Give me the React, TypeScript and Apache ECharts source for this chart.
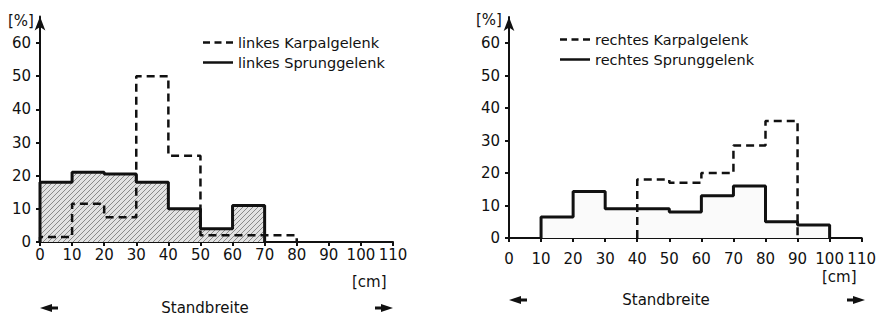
import React, { useEffect, useRef } from "react";
import * as echarts from "echarts";

// ---- data ----
const binWidth = 10; // cm
const yTicks = [0, 10, 20, 30, 40, 50, 60];

// left chart: bins starting at 0 cm
const leftKarpal = [1.5, 11.5, 7.5, 50, 26, 2, 2, 2];
const leftSprung = [18, 21, 20.5, 18, 10, 4, 11];
// right chart
const rightKarpal = [0, 0, 0, 0, 18, 17, 20, 28.5, 36];
const rightSprung = [0, 6.5, 14.3, 9, 9, 8, 13, 16, 5, 4];

const leftNames = ["linkes Karpalgelenk", "linkes Sprunggelenk"];
const rightNames = ["rechtes Karpalgelenk", "rechtes Sprunggelenk"];

const percentLabel = "[%]";
const cmLabel = "[cm]";
const xTitle = "Standbreite";

const FONT = "DejaVu Sans";
const INK = "#111";

const DASH_ICON = "path://M0,0h7v2.5h-7z M11.5,0h7v2.5h-7z M23,0h7v2.5h-7z";
const SOLID_ICON = "path://M0,0h30v2.5h-30z";

function histPoints(values: number[]): number[][] {
  const first = values.findIndex((v) => v > 0);
  const pts: number[][] = [[first * binWidth, 0]];
  for (let i = first; i < values.length; i++) pts.push([i * binWidth, values[i]]);
  pts.push([values.length * binWidth, 0]);
  return pts;
}

function hatch(bg: string, line: string, s: number) {
  const c = document.createElement("canvas");
  c.width = s;
  c.height = s;
  const ctx = c.getContext("2d")!;
  ctx.fillStyle = bg;
  ctx.fillRect(0, 0, s, s);
  ctx.strokeStyle = line;
  ctx.lineWidth = 1;
  ctx.beginPath();
  ctx.moveTo(0, s);
  ctx.lineTo(s, 0);
  ctx.moveTo(-1, 1);
  ctx.lineTo(1, -1);
  ctx.moveTo(s - 1, s + 1);
  ctx.lineTo(s + 1, s - 1);
  ctx.stroke();
  return { image: c, repeat: "repeat" };
}

function xAxis(gridIndex: number, margin: number) {
  return {
    type: "value",
    gridIndex,
    min: 0,
    max: 110,
    interval: 10,
    axisLine: { show: true, lineStyle: { color: INK, width: 2 } },
    axisTick: { show: true, length: 4, lineStyle: { color: INK, width: 2 } },
    axisLabel: { color: INK, fontSize: 15, fontFamily: FONT, margin },
    splitLine: { show: false },
  };
}

function yAxis(gridIndex: number) {
  return {
    type: "value",
    gridIndex,
    min: 0,
    max: 68,
    interval: 10,
    axisLine: {
      show: true,
      symbol: ["none", "arrow"],
      symbolSize: [8, 14],
      lineStyle: { color: INK, width: 2 },
    },
    axisTick: { show: true, length: 4, customValues: yTicks, lineStyle: { color: INK, width: 2 } },
    axisLabel: { color: INK, fontSize: 15, fontFamily: FONT, margin: 9, customValues: yTicks },
    splitLine: { show: false },
  };
}

function sprungSeries(name: string, values: number[], idx: number, fill: any) {
  return {
    name,
    type: "line",
    xAxisIndex: idx,
    yAxisIndex: idx,
    step: "end",
    symbol: "none",
    data: histPoints(values),
    z: 3,
    lineStyle: { color: INK, width: 3, type: "solid" },
    itemStyle: { color: INK },
    areaStyle: { color: fill, opacity: 1 },
  };
}

function karpalSeries(name: string, values: number[], idx: number) {
  return {
    name,
    type: "line",
    xAxisIndex: idx,
    yAxisIndex: idx,
    step: "end",
    symbol: "none",
    data: histPoints(values),
    z: 4,
    lineStyle: { color: INK, width: 2.5, type: [8, 5] },
    itemStyle: { color: INK },
  };
}

function arrow(tipX: number, y: number, dir: number) {
  const p = (dx: number, dy: number) => [tipX + dir * dx, y + dy];
  return {
    type: "polygon",
    shape: { points: [p(0, 0), p(12, -4), p(12, -1.5), p(18, -1.5), p(18, 1.5), p(12, 1.5), p(12, 4)] },
    style: { fill: INK },
  };
}

function label(text: string, x: number, y: number, size = 15, align = "left") {
  return {
    type: "text",
    x,
    y,
    style: { text, fill: INK, font: `${size}px '${FONT}'`, textAlign: align, textVerticalAlign: "middle" },
  };
}

function legend(names: string[], left: number, top: number) {
  return {
    data: [
      { name: names[0], icon: DASH_ICON },
      { name: names[1], icon: SOLID_ICON },
    ],
    orient: "vertical",
    left,
    top,
    itemWidth: 30,
    itemHeight: 12,
    itemGap: 5,
    itemStyle: { color: INK, borderWidth: 0 },
    textStyle: { color: INK, fontSize: 14.5, fontFamily: FONT },
  };
}

export default function App() {
  const ref = useRef<HTMLDivElement>(null);
  useEffect(() => {
    document.body.style.margin = "0";
    const chart = echarts.init(ref.current!, null, { renderer: "svg" });
    chart.setOption({
      animation: false,
      backgroundColor: "#fff",
      grid: [
        { left: 40, top: 16.5, width: 353, height: 225.5 },
        { left: 509, top: 17, width: 356, height: 221 },
      ],
      xAxis: [xAxis(0, 5), xAxis(1, 13)],
      yAxis: [yAxis(0), yAxis(1)],
      legend: [legend(leftNames, 198, 30), legend(rightNames, 555, 27)],
      series: [
        sprungSeries(leftNames[1], leftSprung, 0, hatch("#e2e2e2", "#8a8a8a", 5)),
        karpalSeries(leftNames[0], leftKarpal, 0),
        sprungSeries(rightNames[1], rightSprung, 1, "#fafafa"),
        karpalSeries(rightNames[0], rightKarpal, 1),
      ],
      graphic: [
        label(percentLabel, 8, 21),
        label(percentLabel, 476, 20),
        label(cmLabel, 352, 282),
        label(cmLabel, 822, 277),
        label(xTitle, 205, 308, 15, "center"),
        label(xTitle, 666, 300, 15, "center"),
        arrow(40, 308, 1),
        arrow(393, 308, -1),
        arrow(509, 300, 1),
        arrow(865, 300, -1),
      ],
    });
    return () => chart.dispose();
  }, []);
  return <div ref={ref} style={{ width: 879, height: 320 }} />;
}
